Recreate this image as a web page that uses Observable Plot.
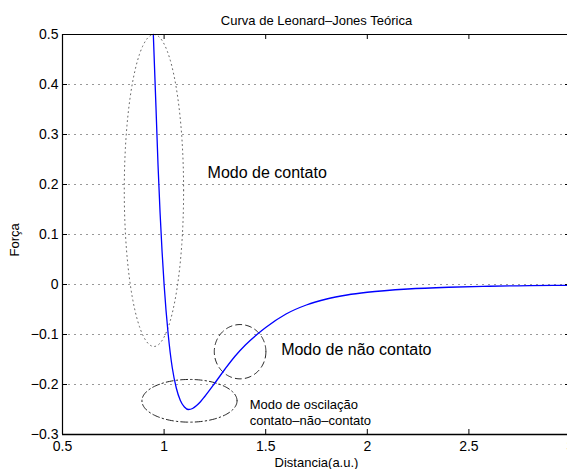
<!DOCTYPE html>
<html><head><meta charset="utf-8">
<script src="https://cdn.jsdelivr.net/npm/d3@7"></script>
<script src="https://cdn.jsdelivr.net/npm/@observablehq/plot@0.6"></script>
<style>
html,body{margin:0;padding:0;background:#fff;overflow:hidden;}
#chart{width:567px;height:469px;overflow:hidden;}
</style></head><body><div id="chart"></div>
<script>
// Curve values
const xDist  = [0.947, 0.96, 0.97, 0.98, 0.99, 1.00, 1.02, 1.04, 1.06, 1.08, 1.10, 1.12, 1.14, 1.16, 1.18, 1.20, 1.25, 1.30, 1.35, 1.40, 1.46, 1.50, 1.60, 1.70, 1.80, 1.90, 2.00, 2.20, 2.40, 2.60, 2.80, 3.00];
const yForce = [0.50, 0.355, 0.24, 0.145, 0.066, 0.0, -0.099, -0.166, -0.207, -0.232, -0.245, -0.250, -0.248, -0.242, -0.234, -0.224, -0.197, -0.169, -0.143, -0.121, -0.099, -0.086, -0.059, -0.041, -0.029, -0.021, -0.0155, -0.009, -0.0055, -0.0035, -0.0023, -0.0015];

const xTicks = [0.5, 1, 1.5, 2, 2.5, 3];
const xTickLabels = ["0.5", "1", "1.5", "2", "2.5", "3"];
const yTicks = [-0.3, -0.2, -0.1, 0, 0.1, 0.2, 0.3, 0.4, 0.5];
const yTickLabels = ["\u22120.3", "\u22120.2", "\u22120.1", "0", "0.1", "0.2", "0.3", "0.4", "0.5"];
const gridY = [-0.2, -0.1, 0, 0.1, 0.2, 0.3, 0.4];

// Ellipse annotations (data units): contato, oscilação, não contato
const ellipseCx = [0.950, 1.125, 1.374];
const ellipseCy = [0.188, -0.2326, -0.1344];
const ellipseRx = [0.146, 0.234, 0.127];
const ellipseRy = [0.312, 0.0427, 0.0543];

const annotationText = ["Modo de contato", "Modo de n\u00e3o contato", "Modo de oscila\u00e7\u00e3o\ncontato\u2013n\u00e3o\u2013contato"];
const annotationX = [1.214, 1.576, 1.421];
const annotationY = [0.2226, -0.130, -0.254];

const titleText = "Curva de Leonard\u2013Jones Te\u00f3rica";
const xLabel = "Distancia(a.u.)";
const yLabel = "For\u00e7a";

const curve = xDist.map((x, i) => ({x, y: yForce[i]}));
const annotations = annotationText.map((t, i) => ({t, x: annotationX[i], y: annotationY[i]}));

function ellipsePts(i) {
  const n = 160;
  return d3.range(n + 1).map(k => {
    const a = 2 * Math.PI * k / n;
    return {x: ellipseCx[i] + ellipseRx[i] * Math.cos(a), y: ellipseCy[i] + ellipseRy[i] * Math.sin(a)};
  });
}

const xMin = 0.5, xMax = 3, yMin = -0.3, yMax = 0.5;
const xTickLen = 5 * (xMax - xMin) / 508;
const yTickLen = 5 * (yMax - yMin) / 400;

const chart = Plot.plot({
  width: 567,
  height: 469,
  marginLeft: 62,
  marginRight: -3,
  marginTop: 34,
  marginBottom: 35,
  style: {fontFamily: "'Liberation Sans', Arial, Helvetica, sans-serif", fontSize: "14px", background: "white", color: "black"},
  x: {domain: [xMin, xMax]},
  y: {domain: [yMin, yMax]},
  marks: [
    Plot.ruleY(gridY, {stroke: "#999", strokeDasharray: "2,4", strokeWidth: 1}),
    Plot.line(ellipsePts(0), {x: "x", y: "y", stroke: "#666", strokeWidth: 1, strokeDasharray: "1,3.5"}),
    Plot.line(ellipsePts(1), {x: "x", y: "y", stroke: "#222", strokeWidth: 1, strokeDasharray: "7,3,1.5,3"}),
    Plot.line(ellipsePts(2), {x: "x", y: "y", stroke: "#222", strokeWidth: 1, strokeDasharray: "6,4"}),
    Plot.line(curve, {x: "x", y: "y", stroke: "#0000ff", strokeWidth: 1.3, curve: "monotone-x"}),
    Plot.ruleY([yMax], {stroke: "black", strokeWidth: 1.2}),
    Plot.ruleY([yMin], {stroke: "black", strokeWidth: 1.6}),
    Plot.ruleX([xMin, xMax], {stroke: "black", strokeWidth: 1.2}),
    Plot.ruleX(xTicks, {y1: yMin, y2: yMin + yTickLen, stroke: "black"}),
    Plot.ruleX(xTicks, {y1: yMax, y2: yMax - yTickLen, stroke: "black"}),
    Plot.ruleY(yTicks, {x1: xMin, x2: xMin + xTickLen, stroke: "black"}),
    Plot.ruleY(yTicks, {x1: xMax, x2: xMax - xTickLen, stroke: "black"}),
    Plot.axisX(xTicks, {tickSize: 0, tickPadding: 7, fontSize: 14, label: null, tickFormat: d => xTickLabels[xTicks.indexOf(d)]}),
    Plot.axisY(yTicks, {tickSize: 0, tickPadding: 4, fontSize: 14, label: null, tickFormat: d => yTickLabels[yTicks.indexOf(d)]}),
    Plot.text(annotations.slice(0, 2), {x: "x", y: "y", text: "t", textAnchor: "start", lineAnchor: "middle", fontSize: 16}),
    Plot.text(annotations.slice(2), {x: "x", y: "y", text: "t", textAnchor: "start", lineAnchor: "middle", fontSize: 13, lineHeight: 1.25}),
    Plot.text([titleText], {text: d => d, frameAnchor: "top", dy: -14, lineAnchor: "middle", fontSize: 13}),
    Plot.text([xLabel], {text: d => d, frameAnchor: "bottom", dy: 28, lineAnchor: "middle", fontSize: 13}),
    Plot.text([yLabel], {text: d => d, frameAnchor: "left", dx: -48, dy: 22, rotate: -90, lineAnchor: "middle", fontSize: 13})
  ]
});
document.getElementById("chart").appendChild(chart);
</script>
</body></html>
